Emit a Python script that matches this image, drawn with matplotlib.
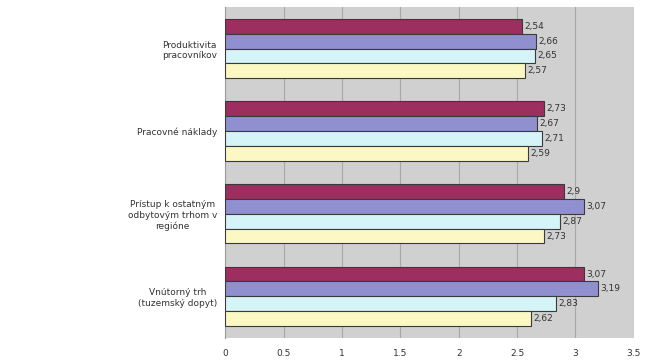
import numpy as np
import matplotlib.pyplot as plt

categories = ["Produktivita\npracovníkov", "Pracovné náklady",
              "Prístup k ostatným\nodbytovým trhom v\nregióne",
              "Vnútorný trh\n(tuzemský dopyt)"]
series_1 = [2.54, 2.73, 2.9, 3.07]
series_2 = [2.66, 2.67, 3.07, 3.19]
series_3 = [2.65, 2.71, 2.87, 2.83]
series_4 = [2.57, 2.59, 2.73, 2.62]
xticks = [0, 0.5, 1, 1.5, 2, 2.5, 3, 3.5]

colors = ["#9c2f60", "#9090d0", "#d4f4f8", "#fcf8c4"]
values = [series_1, series_2, series_3, series_4]

fig = plt.figure(figsize=(6.65, 3.6), dpi=100)
ax = fig.add_axes([0.339, 0.062, 0.614, 0.918])
ax.set_facecolor("#d0d0d0")

h = 0.18
y = np.arange(len(categories))
for i, (vals, c) in enumerate(zip(values, colors)):
    pos = y - 1.5 * h + i * h
    ax.barh(pos, vals, height=h, color=c, edgecolor="#3a3a3a", linewidth=0.8, zorder=3)
    for p, v in zip(pos, vals):
        # decimal comma in the value labels
        ax.text(v + 0.02, p, f"{v:g}".replace(".", ","), va="center", ha="left",
                fontsize=6.5, color="#333333", zorder=4)

ax.set_xlim(0, 3.5)
ax.set_ylim(len(categories) - 0.5, -0.5)
ax.set_xticks(xticks)
ax.set_xticklabels([f"{t:g}" for t in xticks], fontsize=6.5, color="#333333")
ax.set_yticks(y)
ax.set_yticklabels(categories, fontsize=6.5, color="#333333", multialignment="center")
ax.tick_params(axis="y", length=0, pad=6)
ax.tick_params(axis="x", length=0, pad=8)
ax.xaxis.grid(True, color="#a8a8a8", linewidth=0.8, zorder=0)
for s in ax.spines.values():
    s.set_visible(False)
ax.spines["left"].set_visible(True)
ax.spines["left"].set_color("#9a9a9a")

fig.savefig("out.png", dpi=100)
